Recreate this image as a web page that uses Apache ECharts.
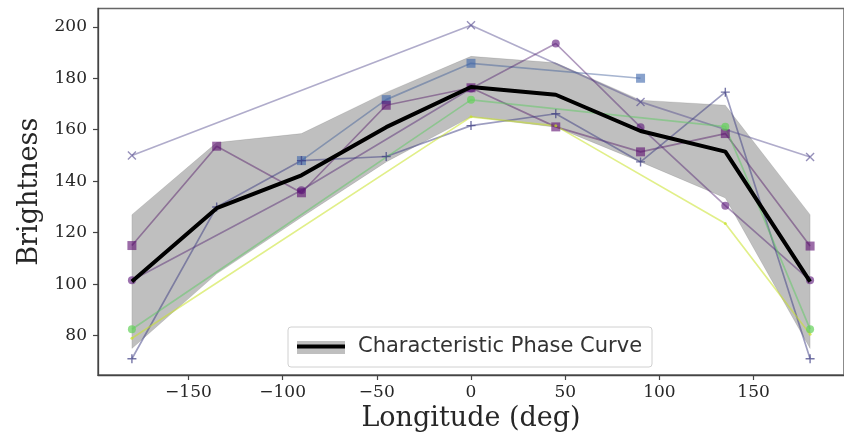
<!DOCTYPE html>
<html>
<head>
<meta charset="utf-8">
<script src="https://cdn.jsdelivr.net/npm/echarts@6/dist/echarts.min.js"></script>
<style>html,body{margin:0;padding:0;background:#fff;}#chart{width:844px;height:439px;}</style>
</head>
<body>
<div id="chart"></div>
<script>
// ---- data ----
const lon = [-180, -135, -90, -45, 0, 45, 90, 135, 180];
const curveMean  = [101, 129.5, 142.3, 161, 176.6, 173.6, 159.5, 151.5, 101];
const bandUpper  = [127, 155, 158.5, 174.5, 188.5, 186, 171.5, 169.5, 127];
const bandLower  = [75, 104, 126, 147.5, 165, 161, 147.5, 133.5, 75];

const crossLon = [-180, 0, 90, 180];
const crossVal = [150, 200.6, 170.8, 149.4];
const blueSqLon = [-90, -45, 0, 90];
const blueSqVal = [148, 171.7, 185.8, 180];
const purpleSqVal = [115, 153.6, 135.5, 169.5, 176.3, 161.1, 151.4, 158.5, 114.8];
const circleLon = [-180, -90, 0, 45, 90, 135, 180];
const circleVal = [101.5, 136.5, 176, 193.5, 161, 130.5, 101.5];
const plusVal = [71, 130, 148, 149.6, 161.6, 166.2, 147.5, 174.6, 71];
const greenLon = [-180, 0, 135, 180];
const greenVal = [82.5, 171.6, 161.2, 82.5];
const yellowLon = [-180, 0, 45, 135, 180];
const yellowVal = [79, 165, 161.5, 123.6, 80.5];

const xTicks = [-150, -100, -50, 0, 50, 100, 150];
const yTicks = [80, 100, 120, 140, 160, 180, 200];
const legendName = 'Characteristic Phase Curve';

const pairs = (xs, ys) => xs.map((x, i) => [x, ys[i]]);
const fmt = v => (v < 0 ? '\u2212' + Math.abs(v) : String(v));

const XSYM = 'path://M0,0L10,10M10,0L0,10';
const PSYM = 'path://M5,0L5,10M0,5L10,5';

function thin(name, data, color, markColor, symbol, size, stroke) {
  return {
    name, type: 'line', data, z: 3,
    symbol, symbolSize: size, showSymbol: true,
    lineStyle: { color, width: 1.7 },
    itemStyle: stroke ? { color: 'rgba(0,0,0,0)', borderColor: markColor, borderWidth: 1.4 }
                      : { color: markColor, borderWidth: 0 },
    emphasis: { disabled: true }, animation: false, silent: true
  };
}

const bandData = lon.map((x, i) => [x, bandLower[i], bandUpper[i]]);

const chart = echarts.init(document.getElementById('chart'), null, { renderer: 'canvas' });
chart.setOption({
  animation: false,
  grid: { left: 98, top: 8.5, right: -6.4, bottom: 64, show: true, borderColor: '#666', borderWidth: 1.5, backgroundColor: 'transparent' },
  xAxis: {
    type: 'value', min: -198, max: 198,
    name: 'Longitude (deg)', nameLocation: 'middle', nameGap: 30,
    nameTextStyle: { fontFamily: 'DejaVu Serif', fontSize: 27, color: '#262626' },
    axisLine: { show: true, onZero: false, lineStyle: { color: '#444', width: 1.3 } },
    axisTick: { show: true, inside: false, length: 5, lineStyle: { color: '#444', width: 1.2 },
      customValues: xTicks },
    axisLabel: { margin: 9, fontFamily: 'DejaVu Serif', fontSize: 17, color: '#262626',
      formatter: fmt, customValues: xTicks },
    splitLine: { show: false }
  },
  yAxis: {
    type: 'value', min: 64.7, max: 207.1,
    name: 'Brightness', nameLocation: 'middle', nameGap: 55, nameRotate: 90,
    nameTextStyle: { fontFamily: 'DejaVu Serif', fontSize: 27, color: '#262626' },
    axisLine: { show: true, onZero: false, lineStyle: { color: '#444', width: 1.3 } },
    axisTick: { show: true, inside: false, length: 5, lineStyle: { color: '#444', width: 1.2 },
      customValues: yTicks },
    axisLabel: { margin: 11, fontFamily: 'DejaVu Serif', fontSize: 17, color: '#262626',
      formatter: fmt, customValues: yTicks },
    splitLine: { show: false }
  },
  legend: {
    data: [{ name: legendName, icon: 'rect' }], left: 297, top: 336, itemWidth: 48, itemHeight: 4, itemGap: 0,
    backgroundColor: 'transparent', borderWidth: 0, padding: 0, z: 5,
    textStyle: { fontFamily: 'DejaVu Sans', fontSize: 21, color: '#333', padding: [0, 0, 0, 8] },
    selectedMode: false
  },
  graphic: [
    { type: 'rect', z: 4, shape: { x: 288, y: 327, width: 364, height: 40, r: 3 },
      style: { fill: 'rgba(255,255,255,0.85)', stroke: '#d0d0d0', lineWidth: 1 } },
    { type: 'rect', z: 4.5, shape: { x: 297, y: 341, width: 48, height: 13 },
      style: { fill: '#bfbfbf' } }
  ],
  series: [
    {
      name: 'band', type: 'custom', data: bandData, z: 1, silent: true, animation: false,
      encode: { x: 0, y: [1, 2] },
      renderItem: function (params, api) {
        if (params.dataIndex !== 0) return null;
        const pts = [];
        for (let i = 0; i < bandData.length; i++) pts.push(api.coord([bandData[i][0], bandData[i][2]]));
        for (let i = bandData.length - 1; i >= 0; i--) pts.push(api.coord([bandData[i][0], bandData[i][1]]));
        return { type: 'polygon', shape: { points: pts }, style: { fill: 'rgba(0,0,0,0.25)', stroke: 'rgba(0,0,0,0.1)', lineWidth: 1 } };
      }
    },
    thin('cross', pairs(crossLon, crossVal), 'rgba(80,70,140,0.45)', 'rgba(80,70,140,0.6)', XSYM, 8, true),
    thin('blueSq', pairs(blueSqLon, blueSqVal), 'rgba(59,90,150,0.45)', 'rgba(59,100,170,0.6)', 'rect', 9, false),
    thin('purpleSq', pairs(lon, purpleSqVal), 'rgba(80,20,100,0.45)', 'rgba(90,10,110,0.6)', 'rect', 9, false),
    thin('circle', pairs(circleLon, circleVal), 'rgba(80,30,110,0.45)', 'rgba(90,20,120,0.6)', 'circle', 8, false),
    thin('plus', pairs(lon, plusVal), 'rgba(60,60,130,0.5)', 'rgba(60,60,130,0.7)', PSYM, 9, true),
    thin('green', pairs(greenLon, greenVal), 'rgba(94,201,98,0.5)', 'rgba(100,210,90,0.7)', 'circle', 8, false),
    thin('yellow', pairs(yellowLon, yellowVal), 'rgba(200,225,40,0.55)', 'rgba(200,225,40,0.7)', 'circle', 3, false),
    { name: legendName, type: 'line', data: pairs(lon, curveMean), symbol: 'none', z: 4,
      lineStyle: { color: '#000', width: 4 }, itemStyle: { color: '#000' }, silent: true, animation: false }
  ]
});
</script>
</body>
</html>
